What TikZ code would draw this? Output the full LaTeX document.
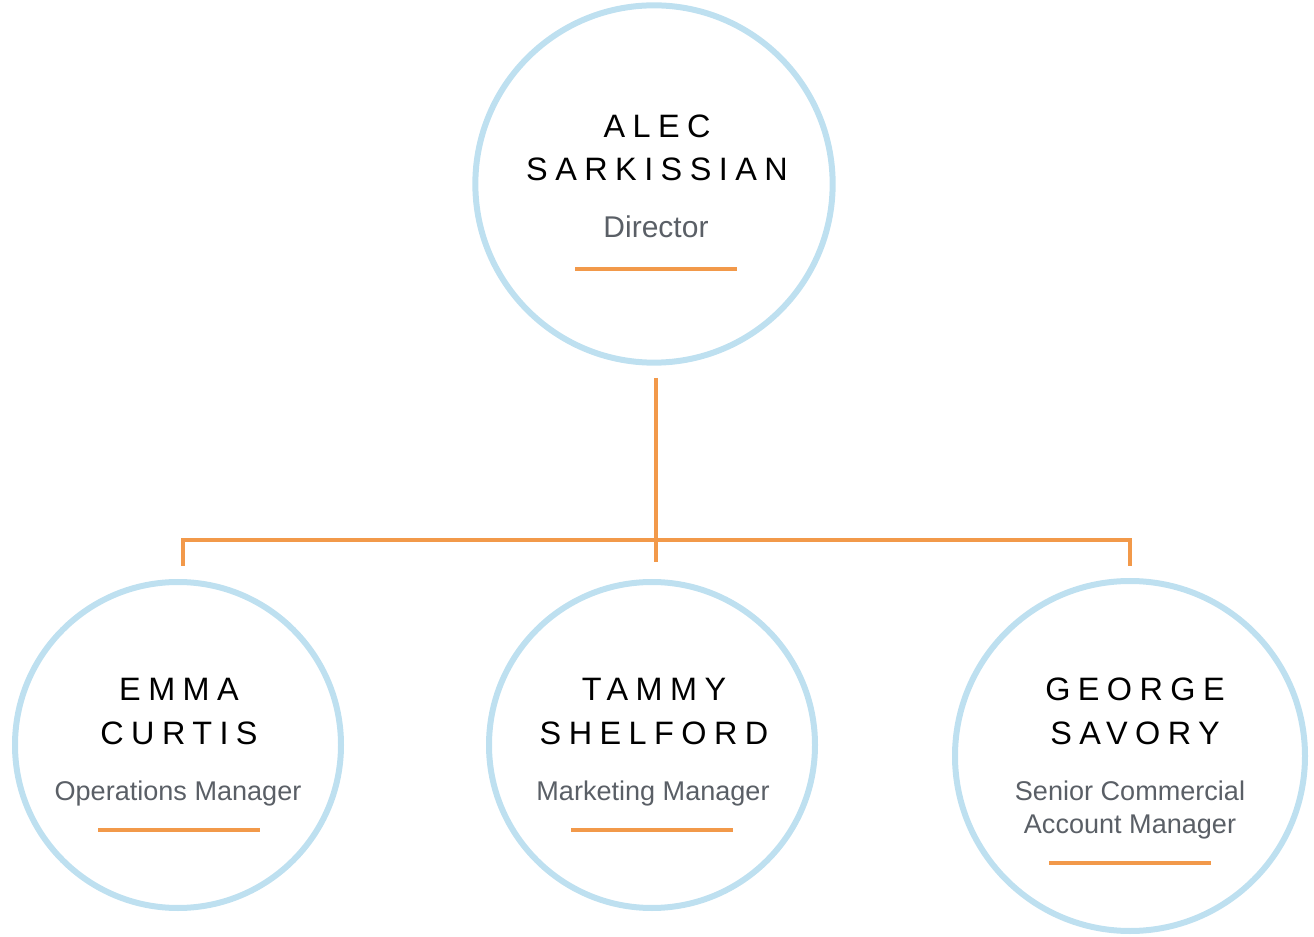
\documentclass[tikz,border=0pt]{standalone}
\usepackage{fontspec}
\setmainfont{Liberation Sans}
\newfontfamily\namefont[LetterSpace=23]{Liberation Sans}
\definecolor{ringblue}{HTML}{BEE0F0}
\definecolor{linkorange}{HTML}{F2994A}
\definecolor{rolegray}{HTML}{5A5F66}
\tikzset{
    ring/.style={circle, draw=ringblue, line width=4.5pt, inner sep=0pt},
    person/.style={font=\namefont\fontsize{24.3}{29}\selectfont, text=black, anchor=base, inner sep=0pt},
    role/.style={font=\fontsize{20.3}{24}\selectfont, text=rolegray, anchor=base, inner sep=0pt},
    link/.style={draw=linkorange, line width=2.8pt},
    rule/.style={draw=linkorange, line width=2.6pt}
}
\begin{document}
\begin{tikzpicture}[x=0.75pt,y=-0.75pt]
    \useasboundingbox (0,0) rectangle (1314,937);
    \begin{scope}
        \node[ring, minimum size=268pt] (alec) at (654,184) {};
        \node[ring, minimum size=244.5pt] (emma) at (178,745) {};
        \node[ring, minimum size=244.5pt] (tammy) at (652,745) {};
        \node[ring, minimum size=262.5pt] (george) at (1130,756) {};
    \end{scope}
    \begin{scope}
        % names and roles
        \node[person] (alec1) at (657,138) {ALEC};
        \node[person] (alec2) at (657,181) {SARKISSIAN};
        \node[role, font=\fontsize{22.5}{27}\selectfont] (alecrole) at (656,238) {Director};
        \node[person] (emma1) at (179,700) {EMMA};
        \node[person] (emma2) at (179,744) {CURTIS};
        \node[role] (emmarole) at (178,800) {Operations Manager};
        \node[person] (tammy1) at (654,700) {TAMMY};
        \node[person] (tammy2) at (654,744) {SHELFORD};
        \node[role] (tammyrole) at (653,800) {Marketing Manager};
        \node[person] (george1) at (1135,700) {GEORGE};
        \node[person] (george2) at (1135,744) {SAVORY};
        \node[role] (georgerole1) at (1130,800) {Senior Commercial};
        \node[role] (georgerole2) at (1130,833) {Account Manager};
    \end{scope}
    \begin{scope}
        \draw[rule] (575,269) -- (737,269);
        \draw[rule] (98,830) -- (260,830);
        \draw[rule] (571,830) -- (733,830);
        \draw[rule] (1049,863) -- (1211,863);
    \end{scope}
    \begin{scope}
        \coordinate (hubtop) at (656,378);
        \coordinate (hubbot) at (656,562);
        \coordinate (barL) at (183,540);
        \coordinate (barR) at (1130,540);
        \coordinate (dropL) at (183,566);
        \coordinate (dropR) at (1130,566);
        \path[link] (hubtop) -- (hubbot);
        \path[link] (dropL) -- (barL) -- (barR) -- (dropR);
    \end{scope}
\end{tikzpicture}
\end{document}
